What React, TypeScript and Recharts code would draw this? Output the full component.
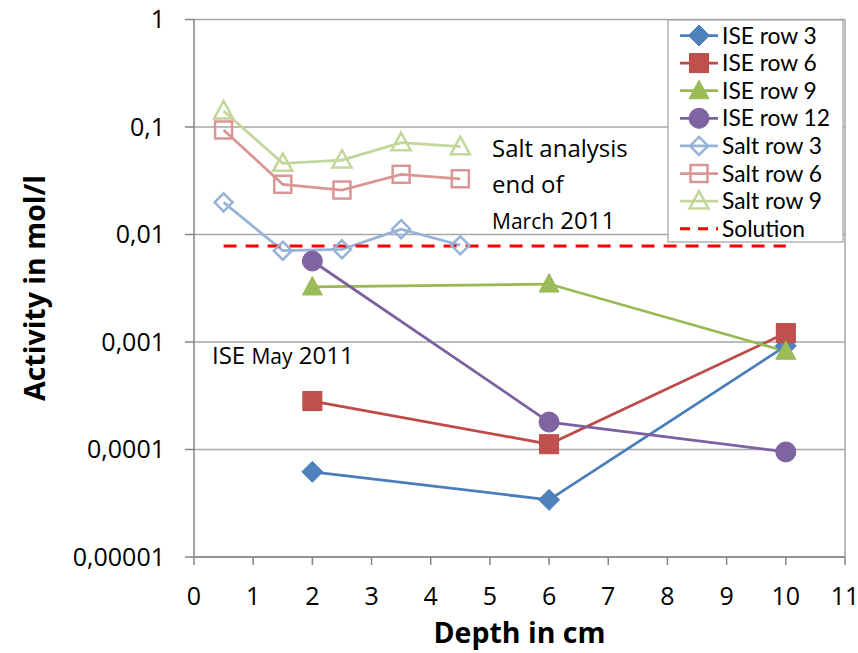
import React from 'react';
import {
  LineChart,
  Line,
  XAxis,
  YAxis,
  CartesianGrid,
  ReferenceLine,
  Customized,
} from 'recharts';

// Axis ticks
const depthTicks = [0, 1, 2, 3, 4, 5, 6, 7, 8, 9, 10, 11];
const activityTicks = [0.00001, 0.0001, 0.001, 0.01, 0.1, 1];

// ISE measurements (May 2011)
const iseDepths = [2, 6, 10];
const iseRow3 = [6.2e-5, 3.4e-5, 9.2e-4];
const iseRow6 = [2.82e-4, 1.12e-4, 1.21e-3];
const iseRow9 = [3.25e-3, 3.46e-3, 8.2e-4];
const iseRow12 = [5.67e-3, 1.8e-4, 9.5e-5];

// Salt analysis (end of March 2011)
const saltDepths = [0.5, 1.5, 2.5, 3.5, 4.5];
const saltRow3 = [0.0199, 0.00707, 0.00728, 0.0112, 0.00794];
const saltRow6 = [0.0938, 0.0293, 0.0259, 0.0363, 0.033];
const saltRow9 = [0.141, 0.0459, 0.0493, 0.0714, 0.0656];

// Solution activity
const solutionDepths = [0.5, 10];
const solutionLevel = [0.0078, 0.0078];

type Shape = 'diamond' | 'square' | 'triangle' | 'circle' | 'none';

interface Series {
  name: string;
  xs: number[];
  ys: number[];
  color: string;
  fill: string;
  shape: Shape;
  hollow?: boolean;
  dashed?: boolean;
}

const series: Series[] = [
  { name: 'ISE row 3', xs: iseDepths, ys: iseRow3, color: '#4A7EBB', fill: '#4F81BD', shape: 'diamond' },
  { name: 'ISE row 6', xs: iseDepths, ys: iseRow6, color: '#BE4B48', fill: '#C0504D', shape: 'square' },
  { name: 'ISE row 9', xs: iseDepths, ys: iseRow9, color: '#98B954', fill: '#9BBB59', shape: 'triangle' },
  { name: 'ISE row 12', xs: iseDepths, ys: iseRow12, color: '#7D60A0', fill: '#8064A2', shape: 'circle' },
  { name: 'Salt row 3', xs: saltDepths, ys: saltRow3, color: '#95B3D7', fill: 'none', shape: 'diamond', hollow: true },
  { name: 'Salt row 6', xs: saltDepths, ys: saltRow6, color: '#D99694', fill: 'none', shape: 'square', hollow: true },
  { name: 'Salt row 9', xs: saltDepths, ys: saltRow9, color: '#C3D69B', fill: 'none', shape: 'triangle', hollow: true },
  { name: 'Solution', xs: solutionDepths, ys: solutionLevel, color: '#FF0000', fill: 'none', shape: 'none', dashed: true },
];

const FONT = '"Open Sans", sans-serif';
const LEGEND_FONT = 'Lato, "Open Sans", sans-serif';
const AXIS_GRAY = '#868686';
const GRID_GRAY = '#A6A6A6';
const DASH = '13 9';
const LINE_WIDTH = 2.75;

function MarkerShape({ cx, cy, s }: { cx: number; cy: number; s: Series }) {
  const sw = s.hollow ? 2.5 : 1;
  const fill = s.hollow ? 'none' : s.fill;
  const stroke = s.color;
  switch (s.shape) {
    case 'diamond': {
      const h = s.hollow ? 9 : 10.5;
      return (
        <polygon
          points={`${cx},${cy - h} ${cx + h},${cy} ${cx},${cy + h} ${cx - h},${cy}`}
          fill={fill}
          stroke={stroke}
          strokeWidth={sw}
        />
      );
    }
    case 'square': {
      const h = s.hollow ? 8.5 : 9.5;
      return <rect x={cx - h} y={cy - h} width={2 * h} height={2 * h} fill={fill} stroke={stroke} strokeWidth={sw} />;
    }
    case 'triangle': {
      const w = s.hollow ? 9.5 : 10;
      const top = s.hollow ? 10 : 10.5;
      const bot = s.hollow ? 7.5 : 8;
      return (
        <polygon
          points={`${cx},${cy - top} ${cx + w},${cy + bot} ${cx - w},${cy + bot}`}
          fill={fill}
          stroke={stroke}
          strokeWidth={sw}
          strokeLinejoin="miter"
        />
      );
    }
    case 'circle':
      return <circle cx={cx} cy={cy} r={10} fill={fill} stroke={stroke} strokeWidth={sw} />;
    default:
      return null;
  }
}

const makeDot = (s: Series) => (props: any) => {
  const { cx, cy, index } = props;
  if (s.shape === 'none' || cx == null || cy == null) return <g key={`${s.name}-${index}`} />;
  return (
    <g key={`${s.name}-${index}`}>
      <MarkerShape cx={cx} cy={cy} s={s} />
    </g>
  );
};

const formatActivity = (v: number) => String(v).replace('.', ',');

// Legend box drawn in SVG, listing every series
function LegendBox() {
  const x0 = 668;
  const y0 = 20;
  const w = 175;
  const h = 222;
  const firstY = 35.5;
  const step = 27.6;
  return (
    <g>
      <rect x={x0} y={y0} width={w} height={h} fill="#FFFFFF" stroke="#A0A0A0" strokeWidth={1.2} />
      {series.map((s, i) => {
        const cy = firstY + i * step;
        return (
          <g key={s.name}>
            <line
              x1={680}
              x2={718}
              y1={cy}
              y2={cy}
              stroke={s.color}
              strokeWidth={s.dashed ? 3 : LINE_WIDTH}
              strokeDasharray={s.dashed ? '10 8' : undefined}
            />
            <MarkerShape cx={699} cy={cy} s={s} />
            <text x={722} y={cy + 8} fontSize={22.8} fontFamily={LEGEND_FONT} fill="#000">
              {s.name}
            </text>
          </g>
        );
      })}
    </g>
  );
}

function Annotations() {
  return (
    <g fontFamily={FONT} fill="#000">
      <text x={492} y={157} fontSize={24}>Salt analysis</text>
      <text x={492} y={193} fontSize={24}>end of</text>
      <text x={492} y={229} fontSize={24}>
        <tspan fontSize={21}>March</tspan> 2011
      </text>
      <text x={212} y={364} fontSize={24}>
        ISE <tspan fontSize={21}>May</tspan> 2011
      </text>
      <text x={519.5} y={643} fontSize={28.5} fontWeight="bold" textAnchor="middle">
        Depth in cm
      </text>
      <text transform="translate(45, 288) rotate(-90)" fontSize={28.5} fontWeight="bold" textAnchor="middle">
        Activity in mol/l
      </text>
    </g>
  );
}

export default function App() {
  return (
    <div style={{ position: 'absolute', left: 0, top: 0, width: 858, height: 653, background: '#FFFFFF', fontFamily: FONT }}>
      <LineChart width={858} height={653} margin={{ top: 19.5, right: 13, bottom: 0, left: 0 }} style={{ fontFamily: FONT }}>
        <CartesianGrid vertical={false} stroke={GRID_GRAY} strokeWidth={1.5} />
        <XAxis
          type="number"
          dataKey="x"
          domain={[0, 11]}
          ticks={depthTicks}
          allowDataOverflow
          height={96}
          stroke={AXIS_GRAY}
          strokeWidth={1.5}
          tickSize={8}
          tickMargin={22}
          tick={{ fill: '#000', fontSize: 25, fontFamily: FONT }}
        />
        <YAxis
          type="number"
          scale="log"
          domain={[0.00001, 1]}
          ticks={activityTicks}
          allowDataOverflow
          width={194}
          stroke={AXIS_GRAY}
          strokeWidth={1.5}
          tickSize={9}
          tickMargin={20}
          tickFormatter={formatActivity}
          tick={{ fill: '#000', fontSize: 25, fontFamily: FONT }}
        />
        <ReferenceLine x={11} stroke={GRID_GRAY} strokeWidth={1.5} />
        {series.map((s) => (
          <Line
            key={s.name}
            name={s.name}
            data={s.xs.map((x, i) => ({ x, y: s.ys[i] }))}
            dataKey="y"
            type="linear"
            stroke={s.color}
            strokeWidth={s.dashed ? 3 : LINE_WIDTH}
            strokeDasharray={s.dashed ? DASH : undefined}
            dot={makeDot(s)}
            activeDot={false}
            isAnimationActive={false}
          />
        ))}
        <Customized component={() => <Annotations />} />
        <Customized component={() => <LegendBox />} />
      </LineChart>
    </div>
  );
}
